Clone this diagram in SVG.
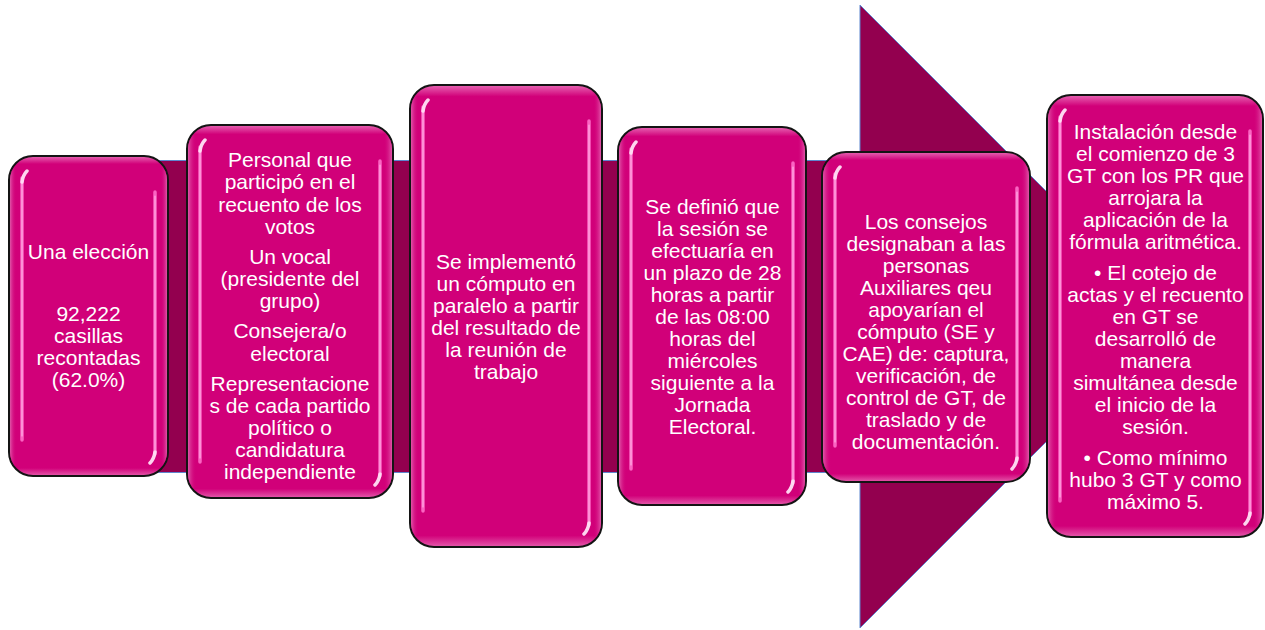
<svg xmlns="http://www.w3.org/2000/svg" width="1265" height="630" viewBox="0 0 1265 630">
<defs>
<linearGradient id="boxFill" x1="0" y1="0" x2="0" y2="1">
<stop offset="0" stop-color="#E867B4"/>
<stop offset="0.025" stop-color="#D10079"/>
<stop offset="0.975" stop-color="#D10079"/>
<stop offset="1" stop-color="#E55BAC"/>
</linearGradient>
<linearGradient id="sideFill" x1="0" y1="0" x2="1" y2="0">
<stop offset="0" stop-color="#E055A8"/>
<stop offset="0.04" stop-color="#D10079" stop-opacity="0"/>
<stop offset="0.96" stop-color="#D10079" stop-opacity="0"/>
<stop offset="1" stop-color="#E055A8"/>
</linearGradient>
</defs>
<style>
.arrow { fill: #93004F; stroke: #5D86CF; stroke-width: 1; }
.box { fill: url(#boxFill); stroke: #141414; stroke-width: 2; }
.side { fill: url(#sideFill); stroke: none; }
.hl { fill: none; stroke: #FF6FCB; stroke-width: 3.5; stroke-linecap: round; opacity: 0.9; }
.hl2 { fill: none; stroke: #FFC2EC; stroke-width: 1.2; stroke-linecap: round; opacity: 0.8; }
.spot { fill: none; stroke: #FFE0F5; stroke-width: 3.5; stroke-linecap: round; opacity: 0.95; }
.t { font-family: "Liberation Sans", Arial, Helvetica, sans-serif; font-size: 21px; fill: #FFFFFF; text-anchor: middle; }
</style>

<g id="connectors">
<polygon class="arrow" points="60,160.5 860,160.5 860,5 1171.5,316.5 860,628 860,472.5 60,472.5"/>
</g>

<g id="node1">
<rect class="box" x="9" y="156" width="159" height="320" rx="24"/>
<rect class="side" x="10" y="157" width="157" height="318" rx="23"/>
<path class="hl" d="M22,178 L22,440"/>
<path class="hl" d="M155,192 L155,454"/>
<path class="hl2" d="M22,182 L22,436 M155,196 L155,450"/>
<path class="spot" d="M22,182 Q23,175 27,171 M155,452 Q154,459 150,463"/>
<text class="t"><tspan x="88.5" y="259">Una elección</tspan><tspan x="88.5" y="320.5">92,222</tspan><tspan x="88.5" y="342.7">casillas</tspan><tspan x="88.5" y="364.9">recontadas</tspan><tspan x="88.5" y="387.1">(62.0%)</tspan></text>
</g>

<g id="node2">
<rect class="box" x="187" y="125" width="206" height="373" rx="24"/>
<rect class="side" x="188" y="126" width="204" height="371" rx="23"/>
<path class="hl" d="M200,147 L200,462"/>
<path class="hl" d="M380,161 L380,476"/>
<path class="hl2" d="M200,151 L200,458 M380,165 L380,472"/>
<path class="spot" d="M200,151 Q201,144 205,140 M380,474 Q379,481 375,485"/>
<text class="t"><tspan x="290" y="167.3">Personal que</tspan><tspan x="290" y="189.4">participó en el</tspan><tspan x="290" y="211.5">recuento de los</tspan><tspan x="290" y="233.6">votos</tspan><tspan x="290" y="263.9">Un vocal</tspan><tspan x="290" y="286">(presidente del</tspan><tspan x="290" y="308.1">grupo)</tspan><tspan x="290" y="338.4">Consejera/o</tspan><tspan x="290" y="360.5">electoral</tspan><tspan x="290" y="390.8">Representacione</tspan><tspan x="290" y="412.9">s de cada partido</tspan><tspan x="290" y="435">político o</tspan><tspan x="290" y="457.1">candidatura</tspan><tspan x="290" y="479.2">independiente</tspan></text>
</g>

<g id="node3">
<rect class="box" x="410" y="85" width="192" height="462" rx="24"/>
<rect class="side" x="411" y="86" width="190" height="460" rx="23"/>
<path class="hl" d="M423,107 L423,511"/>
<path class="hl" d="M589,121 L589,525"/>
<path class="hl2" d="M423,111 L423,507 M589,125 L589,521"/>
<path class="spot" d="M423,111 Q424,104 428,100 M589,523 Q588,530 584,534"/>
<text class="t"><tspan x="506" y="269.2">Se implementó</tspan><tspan x="506" y="291.1">un cómputo en</tspan><tspan x="506" y="313">paralelo a partir</tspan><tspan x="506" y="334.9">del resultado de</tspan><tspan x="506" y="356.8">la reunión de</tspan><tspan x="506" y="378.7">trabajo</tspan></text>
</g>

<g id="node4">
<rect class="box" x="618" y="127" width="188" height="378" rx="24"/>
<rect class="side" x="619" y="128" width="186" height="376" rx="23"/>
<path class="hl" d="M631,149 L631,469"/>
<path class="hl" d="M793,163 L793,483"/>
<path class="hl2" d="M631,153 L631,465 M793,167 L793,479"/>
<path class="spot" d="M631,153 Q632,146 636,142 M793,481 Q792,488 788,492"/>
<text class="t"><tspan x="712.5" y="214.2">Se definió que</tspan><tspan x="712.5" y="236.2">la sesión se</tspan><tspan x="712.5" y="258.1">efectuaría en</tspan><tspan x="712.5" y="280.1">un plazo de 28</tspan><tspan x="712.5" y="302">horas a partir</tspan><tspan x="712.5" y="324">de las 08:00</tspan><tspan x="712.5" y="345.9">horas del</tspan><tspan x="712.5" y="367.9">miércoles</tspan><tspan x="712.5" y="389.8">siguiente a la</tspan><tspan x="712.5" y="411.8">Jornada</tspan><tspan x="712.5" y="433.7">Electoral.</tspan></text>
</g>

<g id="node5">
<rect class="box" x="822" y="152" width="208" height="330" rx="24"/>
<rect class="side" x="823" y="153" width="206" height="328" rx="23"/>
<path class="hl" d="M835,174 L835,446"/>
<path class="hl" d="M1017,188 L1017,460"/>
<path class="hl2" d="M835,178 L835,442 M1017,192 L1017,456"/>
<path class="spot" d="M835,178 Q836,171 840,167 M1017,458 Q1016,465 1012,469"/>
<text class="t"><tspan x="926" y="229.2">Los consejos</tspan><tspan x="926" y="251.2">designaban a las</tspan><tspan x="926" y="273.2">personas</tspan><tspan x="926" y="295.2">Auxiliares qeu</tspan><tspan x="926" y="317.2">apoyarían el</tspan><tspan x="926" y="339.2">cómputo (SE y</tspan><tspan x="926" y="361.2">CAE) de: captura,</tspan><tspan x="926" y="383.2">verificación, de</tspan><tspan x="926" y="405.2">control de GT, de</tspan><tspan x="926" y="427.2">traslado y de</tspan><tspan x="926" y="449.2">documentación.</tspan></text>
</g>

<g id="node6">
<rect class="box" x="1047" y="95" width="216" height="442" rx="24"/>
<rect class="side" x="1048" y="96" width="214" height="440" rx="23"/>
<path class="hl" d="M1060,117 L1060,501"/>
<path class="hl" d="M1250,131 L1250,515"/>
<path class="hl2" d="M1060,121 L1060,497 M1250,135 L1250,511"/>
<path class="spot" d="M1060,121 Q1061,114 1065,110 M1250,513 Q1249,520 1245,524"/>
<text class="t"><tspan x="1155.5" y="139.2">Instalación desde</tspan><tspan x="1155.5" y="161.2">el comienzo de 3</tspan><tspan x="1155.5" y="183.2">GT con los PR que</tspan><tspan x="1155.5" y="205.2">arrojara la</tspan><tspan x="1155.5" y="227.2">aplicación de la</tspan><tspan x="1155.5" y="249.2">fórmula aritmética.</tspan><tspan x="1155.5" y="280.2">• El cotejo de</tspan><tspan x="1155.5" y="302.2">actas y el recuento</tspan><tspan x="1155.5" y="324.2">en GT se</tspan><tspan x="1155.5" y="346.2">desarrolló de</tspan><tspan x="1155.5" y="368.2">manera</tspan><tspan x="1155.5" y="390.2">simultánea desde</tspan><tspan x="1155.5" y="412.2">el inicio de la</tspan><tspan x="1155.5" y="434.2">sesión.</tspan><tspan x="1155.5" y="464.8">• Como mínimo</tspan><tspan x="1155.5" y="486.8">hubo 3 GT y como</tspan><tspan x="1155.5" y="508.8">máximo 5.</tspan></text>
</g>
</svg>
